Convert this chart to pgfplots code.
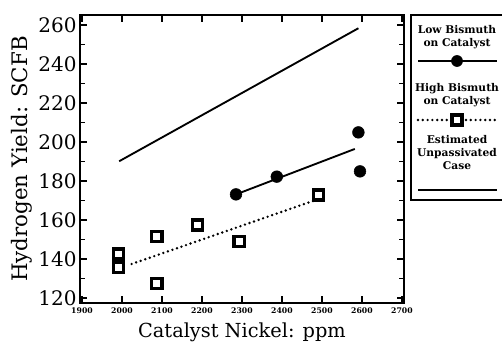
\documentclass[border=0pt]{standalone}
\usepackage{pgfplots}
\pgfplotsset{compat=1.18}
\usepackage{fontspec}
\setmainfont{DejaVu Serif}
\begin{document}
\begin{tikzpicture}[x=1pt,y=1pt]
\begin{axis}[
  at={(60pt,36.75pt)}, anchor=south west,
  scale only axis, width=243pt, height=216pt,
  xmin=1895, xmax=2705, ymin=117.4, ymax=265.1,
  xtick={1900,2000,...,2700}, ytick={120,140,...,260},
  minor ytick={130,150,...,250},
  tick align=inside, major tick length=5pt, minor tick length=4pt,
  axis line style={line width=1.2pt},
  every tick/.style={line width=1pt, black},
  tick label style={/pgf/number format/assume math mode=true},
  x tick label style={font=\fontsize{5.8}{6}\selectfont\bfseries, /pgf/number format/1000 sep={}},
  y tick label style={font=\fontsize{15}{15}\selectfont, xshift=1pt},
  xlabel={Catalyst Nickel: ppm}, ylabel={Hydrogen Yield: SCFB},
  xlabel style={font=\fontsize{14.5}{14.5}\selectfont},
  ylabel style={font=\fontsize{16}{16}\selectfont, yshift=-2pt},
  clip=false
]
% Estimated unpassivated case
\addplot[black, line width=1.4pt] coordinates {(1993,190.1) (2591,258.3)};
% Low bismuth fit line
\addplot[black, line width=1.4pt] coordinates {(2285,173.1) (2582,196.4)};
% High bismuth fit line (dotted)
\addplot[black, line width=2pt, line cap=round, dash pattern=on 0pt off 3.6pt] coordinates {(2024,137.4) (2487,170.4)};
% Low bismuth points
\addplot[only marks, mark=*, mark size=4.4pt, mark options={fill=black, draw=black}] coordinates {
 (2285,173.1) (2387,182.2) (2591,204.9) (2595,184.9)};
% High bismuth points
\addplot[only marks, mark=square*, mark size=3.8pt, mark options={fill=white, draw=black, line width=2.6pt}] coordinates {
 (1991,142.6) (1991,135.7) (2087,151.6) (2087,127.5) (2189,157.4) (2293,148.9) (2491,172.7)};
\end{axis}
% legend box (right side cut off by the page edge)
\draw[line width=1.2pt] (376.5,252.75) -- (308.25,252.75) -- (308.25,114) -- (376.5,114);
\node[font=\fontsize{8}{9.5}\selectfont\bfseries, align=center] at (342.75,236) {Low Bismuth\\on Catalyst};
\draw[line width=1.4pt] (313.5,218.25) -- (372.75,218.25);
\fill (342.75,218.25) circle (4.4pt);
\node[font=\fontsize{8}{9.5}\selectfont\bfseries, align=center] at (342.75,192.5) {High Bismuth\\on Catalyst};
\draw[line width=2pt, line cap=round, dash pattern=on 0pt off 3.6pt] (313.5,174) -- (372.75,174);
\draw[line width=2.6pt, fill=white] (338.95,170.2) rectangle (346.55,177.8);
\node[font=\fontsize{8}{9.5}\selectfont\bfseries, align=center] at (342.75,149.5) {Estimated\\Unpassivated\\Case};
\draw[line width=1.4pt] (313.5,121.5) -- (372.75,121.5);
\pgfresetboundingbox
\useasboundingbox (0,0) rectangle (376.5,264);
\end{tikzpicture}
\end{document}
